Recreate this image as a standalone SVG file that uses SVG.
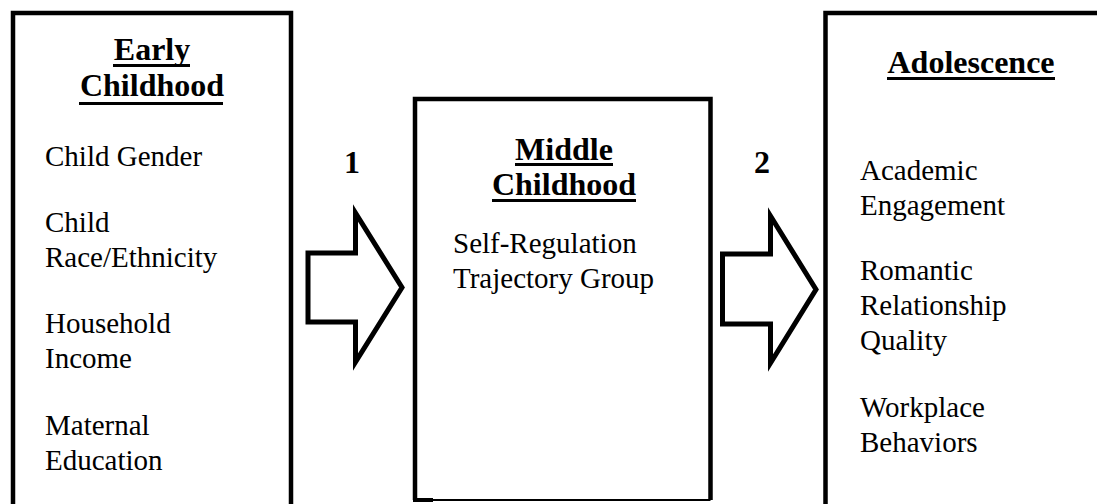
<svg xmlns="http://www.w3.org/2000/svg" width="1097" height="504" viewBox="0 0 1097 504">
<style>
.box{fill:#fff;stroke:#000;stroke-width:4.5;stroke-linejoin:miter}
.arrow{fill:#fff;stroke:#000;stroke-width:5;stroke-linejoin:miter}
.hd{font-family:"Liberation Serif","Times New Roman",serif;font-size:32px;font-weight:bold;fill:#000;text-anchor:middle}
.tx{font-family:"Liberation Serif","Times New Roman",serif;font-size:29px;fill:#000}
.ul{stroke:#000;stroke-width:3}
</style>
<rect width="1097" height="504" fill="#fff"/>
<g id="early">
<path class="box" d="M13,510 V13 H291 V510"/>
<text class="hd" x="152" y="60">Early</text>
<line class="ul" x1="113" y1="65.5" x2="190" y2="65.5"/>
<text class="hd" x="152" y="96">Childhood</text>
<line class="ul" x1="79" y1="103.5" x2="223" y2="103.5"/>
<text class="tx" x="45" y="166">Child Gender</text>
<text class="tx" x="45" y="232">Child</text>
<text class="tx" x="45" y="267">Race/Ethnicity</text>
<text class="tx" x="45" y="333">Household</text>
<text class="tx" x="45" y="368">Income</text>
<text class="tx" x="45" y="435">Maternal</text>
<text class="tx" x="45" y="470">Education</text>
</g>
<g id="middle">
<path class="box" d="M415,500 V99 H710.5 V500"/>
<line x1="415" y1="500" x2="710.5" y2="500" stroke="#000" stroke-width="2"/>
<line x1="413" y1="500" x2="433" y2="500" stroke="#000" stroke-width="4"/>
<text class="hd" x="564" y="160">Middle</text>
<line class="ul" x1="515" y1="164.5" x2="613" y2="164.5"/>
<text class="hd" x="564" y="195">Childhood</text>
<line class="ul" x1="492" y1="200.5" x2="636" y2="200.5"/>
<text class="tx" x="453" y="253">Self-Regulation</text>
<text class="tx" x="453" y="288">Trajectory Group</text>
</g>
<g id="adolescence">
<path class="box" d="M825.5,510 V13 H1105"/>
<text class="hd" x="971" y="73">Adolescence</text>
<line class="ul" x1="887" y1="78.5" x2="1055" y2="78.5"/>
<text class="tx" x="860" y="180">Academic</text>
<text class="tx" x="860" y="215">Engagement</text>
<text class="tx" x="860" y="280">Romantic</text>
<text class="tx" x="860" y="315">Relationship</text>
<text class="tx" x="860" y="350">Quality</text>
<text class="tx" x="860" y="417">Workplace</text>
<text class="tx" x="860" y="452">Behaviors</text>
</g>
<g id="connectors">
<path class="arrow" d="M308,253 H355.5 V213 L402,287.5 L355.5,362 V322 H308 Z"/>
<text class="hd" x="352" y="173">1</text>
<path class="arrow" d="M722.5,254 H770.5 V216 L816,289.5 L770.5,363 V324 H722.5 Z"/>
<text class="hd" x="762" y="173">2</text>
</g>
</svg>
